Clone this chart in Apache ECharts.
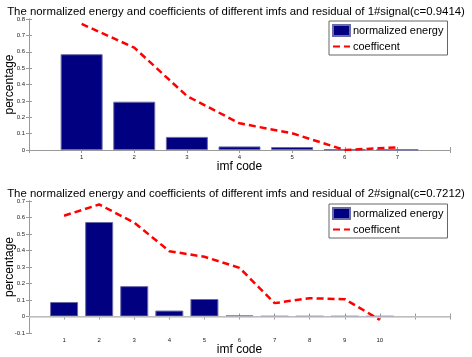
<!DOCTYPE html>
<html lang="en">
<head>
	<meta charset="UTF-8">
	<title>imf energy and coefficients</title>
	<style>
		html, body { margin: 0; padding: 0; background: #fff; }
	</style>
</head>
<body>
	<div id="main" style="width: 472px;height: 357px"></div>
	<script src="https://cdn.jsdelivr.net/npm/echarts@6/dist/echarts.min.js"></script>
	<script>
		// signal 1
		var imf1 = [1, 2, 3, 4, 5, 6, 7];
		var energy1 = [0.585, 0.295, 0.08, 0.022, 0.018, 0.003, 0.002];
		var coef1 = [0.77, 0.625, 0.33, 0.163, 0.102, 0.0, 0.016];
		var yTicks1 = ['0', '0.1', '0.2', '0.3', '0.4', '0.5', '0.6', '0.7', '0.8'];

		// signal 2
		var imf2 = [1, 2, 3, 4, 5, 6, 7, 8, 9, 10];
		var energy2 = [0.088, 0.573, 0.184, 0.036, 0.106, 0.006, 0.002, 0.002, 0.002, 0.002];
		var coef2 = [0.611, 0.679, 0.569, 0.396, 0.362, 0.295, 0.081, 0.111, 0.105, -0.02];
		var yTicks2 = ['-0.1', '0', '0.1', '0.2', '0.3', '0.4', '0.5', '0.6', '0.7'];

		var titles = [
			'The normalized energy and coefficients of different imfs and residual of 1#signal(c=0.9414)',
			'The normalized energy and coefficients of different imfs and residual of 2#signal(c=0.7212)'
		];

		function pairs(xs, ys) {
			return xs.map(function(x, i) { return [x, ys[i]]; });
		}

		var font = 'Liberation Sans, Arial, sans-serif';
		var boxColor = '#9a9a9a';
		var navy = '#000080';

		function mainX(idx, max, labels) {
			return {
				type: 'value', gridIndex: idx, min: 0, max: max, interval: 1,
				name: 'imf code', nameLocation: 'middle', nameGap: 10,
				nameTextStyle: { fontFamily: font, fontSize: 12, color: '#000' },
				axisLine: { lineStyle: { color: boxColor } },
				axisTick: { inside: true, length: 3, lineStyle: { color: boxColor } },
				axisLabel: {
					fontFamily: font, fontSize: 6, color: '#222', margin: 4,
					formatter: function(v) { return labels.indexOf(v) >= 0 ? String(v) : ''; }
				},
				splitLine: { show: false }
			};
		}
		function topX(idx, max) {
			return {
				type: 'value', gridIndex: idx, position: 'top', min: 0, max: max, interval: 1,
				axisLine: { lineStyle: { color: boxColor } },
				axisTick: { inside: true, length: 3, lineStyle: { color: boxColor } },
				axisLabel: { show: false }, splitLine: { show: false }
			};
		}
		function mainY(idx, min, max, labels) {
			return {
				type: 'value', gridIndex: idx, min: min, max: max, interval: 0.1,
				name: 'percentage', nameLocation: 'middle', nameGap: 13, nameMoveOverlap: false,
				nameTextStyle: { fontFamily: font, fontSize: 12, color: '#000' },
				axisLine: { show: true, lineStyle: { color: boxColor } },
				axisTick: { show: true, inside: true, length: 3, lineStyle: { color: boxColor } },
				axisLabel: {
					fontFamily: font, fontSize: 6, color: '#222', margin: 4,
					formatter: function(v) {
						var i = Math.round((v - min) * 10);
						return labels[i];
					}
				},
				splitLine: { show: false }
			};
		}
		function rightY(idx, min, max) {
			return {
				type: 'value', gridIndex: idx, position: 'right', min: min, max: max, interval: 0.1,
				axisLine: { show: true, lineStyle: { color: boxColor } },
				axisTick: { show: true, inside: true, length: 3, lineStyle: { color: boxColor } },
				axisLabel: { show: false }, splitLine: { show: false }
			};
		}
		function legendAt(top) {
			return {
				orient: 'vertical', left: 329, top: top,
				width: 118,
				padding: [3, 4, 3, 3], itemGap: 4,
				itemWidth: 17, itemHeight: 11,
				backgroundColor: '#fff', borderColor: '#666', borderWidth: 1,
				textStyle: { fontFamily: font, fontSize: 11, color: '#000', padding: [0, 0, 0, -2] },
				data: [
					{ name: 'normalized energy', icon: 'rect' },
					{ name: 'coefficent', itemStyle: { opacity: 0 } }
				]
			};
		}

		var myChart = echarts.init(document.getElementById('main'));
		var option = {
			backgroundColor: '#fff',
			animation: false,
			title: [
				{ text: titles[0], left: 'center', top: 1,
				  textStyle: { fontFamily: font, fontSize: 11.4, fontWeight: 'normal', color: '#000' } },
				{ text: titles[1], left: 'center', top: 183,
				  textStyle: { fontFamily: font, fontSize: 11.4, fontWeight: 'normal', color: '#000' } }
			],
			legend: [legendAt(21), legendAt(204)],
			grid: [
				{ left: 29, top: 19, width: 421, height: 131, outerBoundsMode: 'none', containLabel: false },
				{ left: 29, top: 201, width: 421, height: 132, outerBoundsMode: 'none', containLabel: false }
			],
			xAxis: [
				mainX(0, 8, imf1), topX(0, 8),
				mainX(1, 12, imf2), topX(1, 12)
			],
			yAxis: [
				mainY(0, 0, 0.8, yTicks1), rightY(0, 0, 0.8),
				mainY(1, -0.1, 0.7, yTicks2), rightY(1, -0.1, 0.7)
			],
			series: [
				{
					name: 'normalized energy', type: 'bar', xAxisIndex: 0, yAxisIndex: 0,
					barWidth: 42, data: pairs(imf1, energy1),
					itemStyle: { color: navy, borderColor: '#6b6ba8', borderWidth: 1 }
				},
				{
					name: 'coefficent', type: 'line', xAxisIndex: 0, yAxisIndex: 0,
					symbol: 'none', data: pairs(imf1, coef1),
					itemStyle: { color: '#ff0000' },
					lineStyle: { color: '#ff0000', width: 2.5, type: [7, 4] }
				},
				{
					name: 'normalized energy', type: 'bar', xAxisIndex: 2, yAxisIndex: 2,
					barWidth: 28, data: pairs(imf2, energy2),
					itemStyle: { color: navy, borderColor: '#6b6ba8', borderWidth: 1 },
					markLine: {
						silent: true, symbol: 'none', label: { show: false },
						lineStyle: { color: '#c8c8c8', type: 'solid', width: 1.5 },
						data: [{ yAxis: 0 }]
					}
				},
				{
					name: 'coefficent', type: 'line', xAxisIndex: 2, yAxisIndex: 2,
					symbol: 'none', data: pairs(imf2, coef2),
					itemStyle: { color: '#ff0000' },
					lineStyle: { color: '#ff0000', width: 2.5, type: [7, 4] }
				}
			]
		};

		myChart.setOption(option);
	</script>
</body>
</html>
